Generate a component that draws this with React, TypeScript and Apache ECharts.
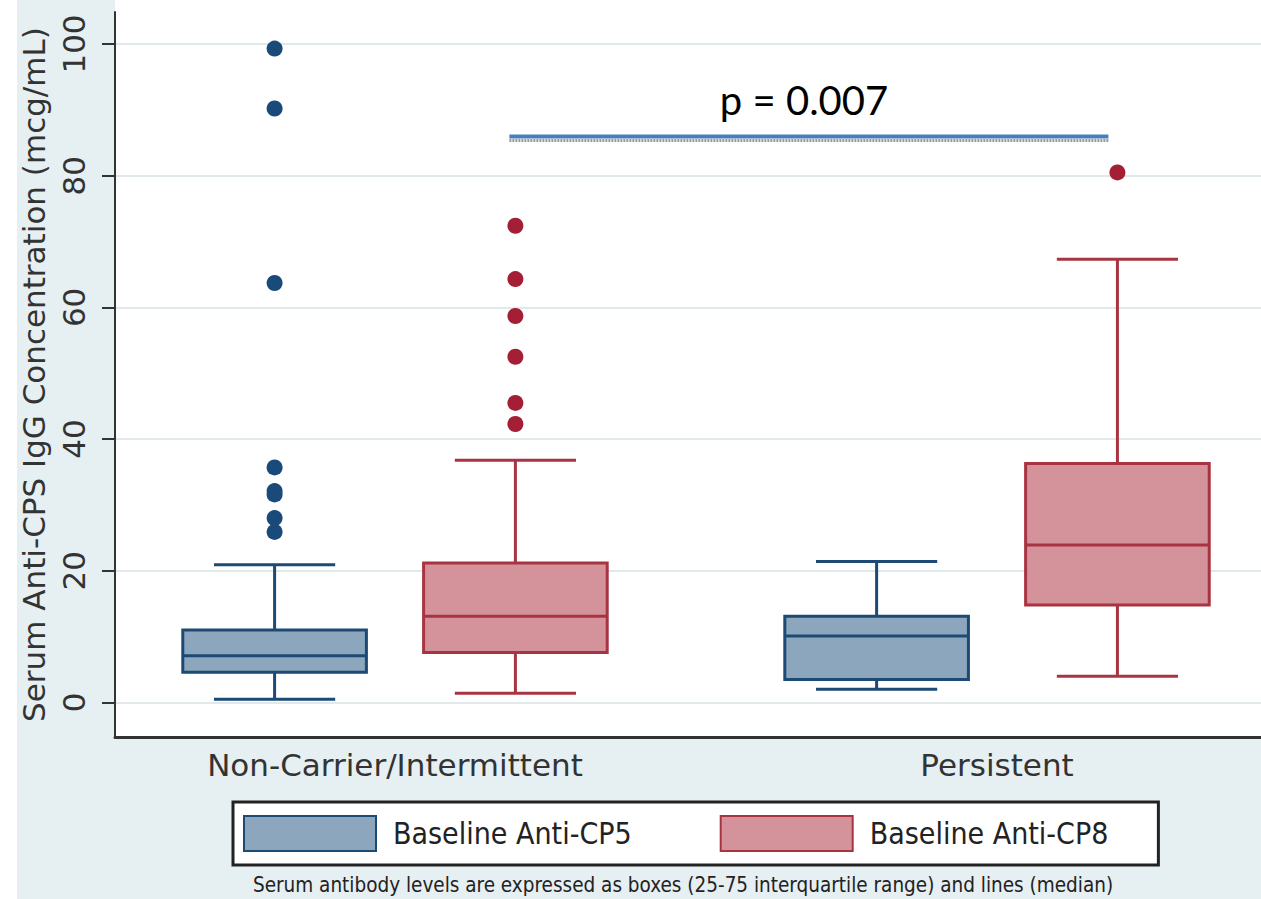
import React, { useEffect, useRef } from 'react';
import * as echarts from 'echarts';

const categories = ['Non-Carrier/Intermittent', 'Persistent'];
const seriesNames = ['Baseline Anti-CP5', 'Baseline Anti-CP8'];
// [low whisker, Q1, median, Q3, high whisker] per category
const cp5Boxes = [
  [0.5, 4.6, 7.1, 11.0, 20.9],
  [2.0, 3.5, 10.1, 13.1, 21.4],
];
const cp8Boxes = [
  [1.4, 7.6, 13.1, 21.2, 36.8],
  [4.0, 14.8, 23.9, 36.3, 67.3],
];
const cp5Outliers = [[99.3, 90.2, 63.7, 35.7, 32.1, 31.6, 28.0, 25.9], []];
const cp8Outliers = [[72.4, 64.3, 58.7, 52.5, 45.5, 42.3], [80.5]];
const yTicks = [0, 20, 40, 60, 80, 100];
const pValueLabel = 'p = 0.007';
const pBarValue = 85.95;
const pBarFrom = 0.19;
const pBarTo = 1.185;
const caption =
  'Serum antibody levels are expressed as boxes (25-75 interquartile range) and lines (median)';
const yTitle = 'Serum Anti-CPS IgG Concentration (mcg/mL)';

const BOX_OFFSET = 0.2;
const BOX_WIDTH = 0.305;
const CAP_RATIO = 0.66;

const BLUE_STROKE = '#1d4a74';
const BLUE_FILL = '#8ba6bd';
const BLUE_DOT = '#1a4a7a';
const RED_STROKE = '#a83442';
const RED_FILL = '#d4939b';
const RED_DOT = '#a41f36';

function makeRender(offset: number, stroke: string, fill: string) {
  return (params: any, api: any) => {
    const x = api.value(0) + offset;
    const pLow = api.coord([x, api.value(1)]);
    const pQ1 = api.coord([x, api.value(2)]);
    const pMed = api.coord([x, api.value(3)]);
    const pQ3 = api.coord([x, api.value(4)]);
    const pHigh = api.coord([x, api.value(5)]);
    const halfW = api.size([BOX_WIDTH, 0])[0] / 2;
    const capHalf = halfW * CAP_RATIO;
    const cx = pMed[0];
    const lineStyle = { stroke, lineWidth: 3, fill: null };
    return {
      type: 'group',
      children: [
        { type: 'line', shape: { x1: cx, y1: pHigh[1], x2: cx, y2: pQ3[1] }, style: lineStyle },
        { type: 'line', shape: { x1: cx, y1: pQ1[1], x2: cx, y2: pLow[1] }, style: lineStyle },
        { type: 'line', shape: { x1: cx - capHalf, y1: pHigh[1], x2: cx + capHalf, y2: pHigh[1] }, style: lineStyle },
        { type: 'line', shape: { x1: cx - capHalf, y1: pLow[1], x2: cx + capHalf, y2: pLow[1] }, style: lineStyle },
        {
          type: 'rect',
          shape: { x: cx - halfW, y: pQ3[1], width: halfW * 2, height: pQ1[1] - pQ3[1] },
          style: { fill, stroke, lineWidth: 3 },
        },
        { type: 'line', shape: { x1: cx - halfW, y1: pMed[1], x2: cx + halfW, y2: pMed[1] }, style: lineStyle },
      ],
    };
  };
}

export default function App() {
  const ref = useRef<HTMLDivElement>(null);
  useEffect(() => {
    if (!ref.current) return;
    const chart = echarts.init(ref.current, undefined, { renderer: 'svg' });
    const axisFont = 'DejaVu Sans';
    const option: any = {
      animation: false,
      backgroundColor: '#e6eff2',
      grid: {
        left: 115,
        right: 0,
        top: 12,
        bottom: 162,
        show: true,
        backgroundColor: '#ffffff',
        borderWidth: 0,
      },
      legend: {
        left: 233,
        top: 802,
        orient: 'horizontal',
        padding: [13, 50, 13, 10],
        borderColor: '#222',
        borderWidth: 3,
        backgroundColor: '#ffffff',
        itemWidth: 132,
        itemHeight: 35,
        itemGap: 88,
        selectedMode: false,
        textStyle: {
          fontFamily: 'DejaVu Sans Condensed',
          fontSize: 30,
          color: '#222',
          padding: [0, 0, 0, 12],
        },
        data: [
          { name: seriesNames[0], icon: 'rect', itemStyle: { color: BLUE_FILL, borderColor: BLUE_STROKE, borderWidth: 2 } },
          { name: seriesNames[1], icon: 'rect', itemStyle: { color: RED_FILL, borderColor: RED_STROKE, borderWidth: 2 } },
        ],
      },
      xAxis: {
        type: 'value',
        min: -0.4651,
        max: 1.4385,
        axisLine: { show: true, onZero: false, lineStyle: { color: '#333', width: 3 } },
        axisTick: { show: false },
        splitLine: { show: false },
        axisLabel: {
          customValues: [0, 1],
          formatter: (v: number) => categories[Math.round(v)] ?? '',
          fontFamily: axisFont,
          fontSize: 31,
          color: '#333',
          margin: 12,
        },
      },
      yAxis: {
        type: 'value',
        min: -5.24,
        max: 104.86,
        name: yTitle,
        nameLocation: 'middle',
        nameRotate: 90,
        nameGap: 66,
        nameTextStyle: { fontFamily: axisFont, fontSize: 31, color: '#333' },
        axisLine: { show: true, onZero: false, lineStyle: { color: '#333', width: 2 } },
        axisTick: { show: true, customValues: yTicks, length: 13, lineStyle: { color: '#333', width: 2 } },
        splitLine: { show: true, lineStyle: { color: '#e2e9eb', width: 2 } },
        axisLabel: {
          customValues: yTicks,
          rotate: 90,
          fontFamily: axisFont,
          fontSize: 31,
          color: '#333',
          margin: 26,
        },
      },
      graphic: [
        { type: 'rect', left: 0, top: 0, shape: { width: 17, height: 899 }, style: { fill: '#ffffff' }, z: -1 },
        { type: 'rect', left: 115, top: 0, shape: { width: 1146, height: 12 }, style: { fill: '#ffffff' }, z: -1 },
        {
          type: 'text',
          x: 804,
          y: 100,
          style: {
            text: pValueLabel,
            fontFamily: 'Lato',
            fontSize: 40,
            fill: '#000',
            textAlign: 'center',
            textVerticalAlign: 'middle',
          },
        },
        {
          type: 'text',
          x: 683,
          y: 885,
          style: {
            text: caption,
            fontFamily: 'DejaVu Sans Condensed',
            fontSize: 20.5,
            fill: '#222',
            textAlign: 'center',
            textVerticalAlign: 'middle',
          },
        },
      ],
      series: [
        {
          name: seriesNames[0],
          type: 'custom',
          itemStyle: { color: BLUE_FILL, borderColor: BLUE_STROKE },
          renderItem: makeRender(-BOX_OFFSET, BLUE_STROKE, BLUE_FILL),
          encode: { x: 0, y: [1, 2, 3, 4, 5] },
          data: cp5Boxes.map((b, i) => [i, ...b]),
          z: 3,
        },
        {
          name: seriesNames[1],
          type: 'custom',
          itemStyle: { color: RED_FILL, borderColor: RED_STROKE },
          renderItem: makeRender(BOX_OFFSET, RED_STROKE, RED_FILL),
          encode: { x: 0, y: [1, 2, 3, 4, 5] },
          data: cp8Boxes.map((b, i) => [i, ...b]),
          z: 3,
        },
        {
          name: 'CP5 outliers',
          type: 'scatter',
          symbol: 'circle',
          symbolSize: 16,
          itemStyle: { color: BLUE_DOT, opacity: 1 },
          data: cp5Outliers.flatMap((vals, i) => vals.map((v) => [i - BOX_OFFSET, v])),
          z: 4,
        },
        {
          name: 'CP8 outliers',
          type: 'scatter',
          symbol: 'circle',
          symbolSize: 16,
          itemStyle: { color: RED_DOT, opacity: 1 },
          data: cp8Outliers.flatMap((vals, i) => vals.map((v) => [i + BOX_OFFSET, v])),
          z: 4,
        },
        {
          name: 'p bar',
          type: 'line',
          symbol: 'none',
          silent: true,
          lineStyle: { color: '#4a7ebb', width: 4 },
          data: [
            [pBarFrom, pBarValue],
            [pBarTo, pBarValue],
          ],
          z: 5,
        },
        {
          name: 'p bar shadow',
          type: 'line',
          symbol: 'none',
          silent: true,
          lineStyle: { color: '#9a9a9a', width: 3, type: [2, 1] },
          data: [
            [pBarFrom, pBarValue - 0.6],
            [pBarTo, pBarValue - 0.6],
          ],
          z: 5,
        },
      ],
    };
    chart.setOption(option);
    return () => chart.dispose();
  }, []);
  return (
    <div
      ref={ref}
      style={{ position: 'absolute', left: 0, top: 0, width: 1261, height: 899 }}
    />
  );
}
